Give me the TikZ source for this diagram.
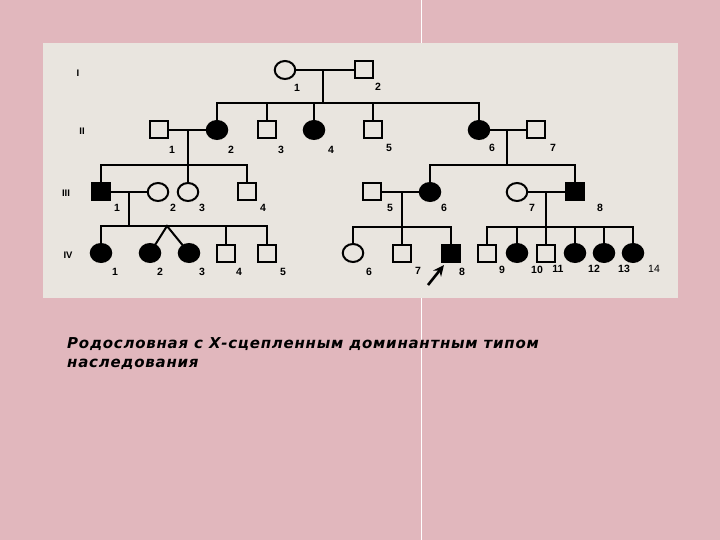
\documentclass[tikz,border=0pt]{standalone}
\usepackage{fontspec}
\setmainfont{Liberation Sans}
\newfontfamily\capfont[LetterSpace=5]{DejaVu Sans}
\usetikzlibrary{shapes.geometric,arrows.meta}
\definecolor{bgpink}{RGB}{225,183,189}
\definecolor{panel}{RGB}{233,229,223}
\begin{document}
\begin{tikzpicture}[x=1pt,y=-1pt,
  male/.style={draw, rectangle, line width=2pt, minimum width=18pt, minimum height=17pt, inner sep=0pt, fill=panel},
  female/.style={draw, ellipse, line width=2pt, minimum width=20.5pt, minimum height=18pt, inner sep=0pt, fill=panel},
  aff/.style={fill=black},
  lab/.style={font=\fontsize{10.5}{10.5}\selectfont\bfseries, inner sep=0pt},
  gen/.style={font=\fontsize{9.5}{9.5}\selectfont\bfseries, inner sep=0pt},
  link/.style={line width=2pt, line cap=rect},
  capt/.style={font=\capfont\fontsize{15}{15}\selectfont\bfseries\itshape, inner sep=0pt, anchor=base west}]
\useasboundingbox (0,0) rectangle (720,540);
\fill[bgpink] (0,0) rectangle (720,540);
\draw[white, line width=1pt] (421,0) -- (421,540);
\fill[panel] (43,43) rectangle (678,298);

% generation marks
\node[gen] (gI) at (78,73) {I};
\node[gen] (gII) at (82,131) {II};
\node[gen] (gIII) at (66,193) {III};
\node[gen] (gIV) at (68,255) {IV};

% generation I
\node[female] (I1) at (285,70) {};
\node[male] (I2) at (364,70) {};
% generation II
\node[male] (II1) at (159,130) {};
\node[female,aff] (II2) at (217,130) {};
\node[male] (II3) at (267,130) {};
\node[female,aff] (II4) at (314,130) {};
\node[male] (II5) at (373,130) {};
\node[female,aff] (II6) at (479,130) {};
\node[male] (II7) at (536,130) {};
% generation III
\node[male,aff] (III1) at (101,192) {};
\node[female] (III2) at (158,192) {};
\node[female] (III3) at (188,192) {};
\node[male] (III4) at (247,192) {};
\node[male] (III5) at (372,192) {};
\node[female,aff] (III6) at (430,192) {};
\node[female] (III7) at (517,192) {};
\node[male,aff] (III8) at (575,192) {};
% generation IV
\node[female,aff] (IV1) at (101,253) {};
\node[female,aff] (IV2) at (150,253) {};
\node[female,aff] (IV3) at (189,253) {};
\node[male] (IV4) at (226,253) {};
\node[male] (IV5) at (267,253) {};
\node[female] (IV6) at (353,253) {};
\node[male] (IV7) at (402,253) {};
\node[male,aff] (IV8) at (451,253) {};
\node[male] (IV9) at (487,253) {};
\node[female,aff] (IV10) at (517,253) {};
\node[male] (IV11) at (546,253) {};
\node[female,aff] (IV12) at (575,253) {};
\node[female,aff] (IV13) at (604,253) {};
\node[female,aff] (IV14) at (633,253) {};

% junction points
\coordinate (mI) at (323,70);   \coordinate (sII) at (323,103);
\coordinate (mA) at (188,130);  \coordinate (sIIIa) at (188,165);
\coordinate (mB) at (507,130);  \coordinate (sIIIb) at (507,165);
\coordinate (mC) at (129,192);  \coordinate (sIVa) at (129,226);
\coordinate (mD) at (402,192);  \coordinate (sIVb) at (402,227);
\coordinate (mE) at (546,192);  \coordinate (sIVc) at (546,227);
\coordinate (tw) at (167,226);

% I
\draw[link] (I1) -- (I2);
\draw[link] (mI) -- (sII);
\draw[link] (II2.north |- sII) -- (II6.north |- sII);
\foreach \c in {II2,II3,II4,II5,II6} \draw[link] (\c.north |- sII) -- (\c.north);
% II left
\draw[link] (II1) -- (II2);
\draw[link] (mA) -- (III3.north);
\draw[link] (III1.north |- sIIIa) -- (III4.north |- sIIIa);
\foreach \c in {III1,III4} \draw[link] (\c.north |- sIIIa) -- (\c.north);
% II right
\draw[link] (II6) -- (II7);
\draw[link] (mB) -- (sIIIb);
\draw[link] (III6.north |- sIIIb) -- (III8.north |- sIIIb);
\foreach \c in {III6,III8} \draw[link] (\c.north |- sIIIb) -- (\c.north);
% III left
\draw[link] (III1) -- (III2);
\draw[link] (mC) -- (sIVa);
\draw[link] (IV1.north |- sIVa) -- (IV5.north |- sIVa);
\foreach \c in {IV1,IV4,IV5} \draw[link] (\c.north |- sIVa) -- (\c.north);
\draw[link] (tw) -- (IV2);
\draw[link] (tw) -- (IV3);
% III middle
\draw[link] (III5) -- (III6);
\draw[link] (mD) -- (IV7.north);
\draw[link] (IV6.north |- sIVb) -- (IV8.north |- sIVb);
\foreach \c in {IV6,IV8} \draw[link] (\c.north |- sIVb) -- (\c.north);
% III right
\draw[link] (III7) -- (III8);
\draw[link] (mE) -- (IV11.north);
\draw[link] (IV9.north |- sIVc) -- (IV14.north |- sIVc);
\foreach \c in {IV9,IV10,IV12,IV13,IV14} \draw[link] (\c.north |- sIVc) -- (\c.north);

% proband arrow
\coordinate (arT) at (428,285);
\coordinate (arH) at (444,265);
\draw[line width=2.6pt, -{Stealth[length=11pt,width=10pt]}] (arT) -- (arH);

% numbers
\node[lab] (lI1) at (297,88) {1};
\node[lab] (lI2) at (378,87) {2};
\node[lab] (lII1) at (172,150) {1};
\node[lab] (lII2) at (231,150) {2};
\node[lab] (lII3) at (281,150) {3};
\node[lab] (lII4) at (331,150) {4};
\node[lab] (lII5) at (389,148) {5};
\node[lab] (lII6) at (492,148) {6};
\node[lab] (lII7) at (553,148) {7};
\node[lab] (lIII1) at (117,208) {1};
\node[lab] (lIII2) at (173,208) {2};
\node[lab] (lIII3) at (202,208) {3};
\node[lab] (lIII4) at (263,208) {4};
\node[lab] (lIII5) at (390,208) {5};
\node[lab] (lIII6) at (444,208) {6};
\node[lab] (lIII7) at (532,208) {7};
\node[lab] (lIII8) at (600,208) {8};
\node[lab] (lIV1) at (115,272) {1};
\node[lab] (lIV2) at (160,272) {2};
\node[lab] (lIV3) at (202,272) {3};
\node[lab] (lIV4) at (239,272) {4};
\node[lab] (lIV5) at (283,272) {5};
\node[lab] (lIV6) at (369,272) {6};
\node[lab] (lIV7) at (418,271) {7};
\node[lab] (lIV8) at (462,272) {8};
\node[lab] (lIV9) at (502,270) {9};
\node[lab] (lIV10) at (537,270) {10};
\node[lab] (lIV11) at (558,269) {11};
\node[lab] (lIV12) at (594,269) {12};
\node[lab] (lIV13) at (624,269) {13};
\node[lab,font=\fontsize{10.5}{10.5}\selectfont] (lIV14) at (654,269) {14};

% caption
\node[capt] (cap1) at (67,348) {Родословная с Х-сцепленным доминантным типом};
\node[capt] (cap2) at (67,367) {наследования};
\end{tikzpicture}
\end{document}
